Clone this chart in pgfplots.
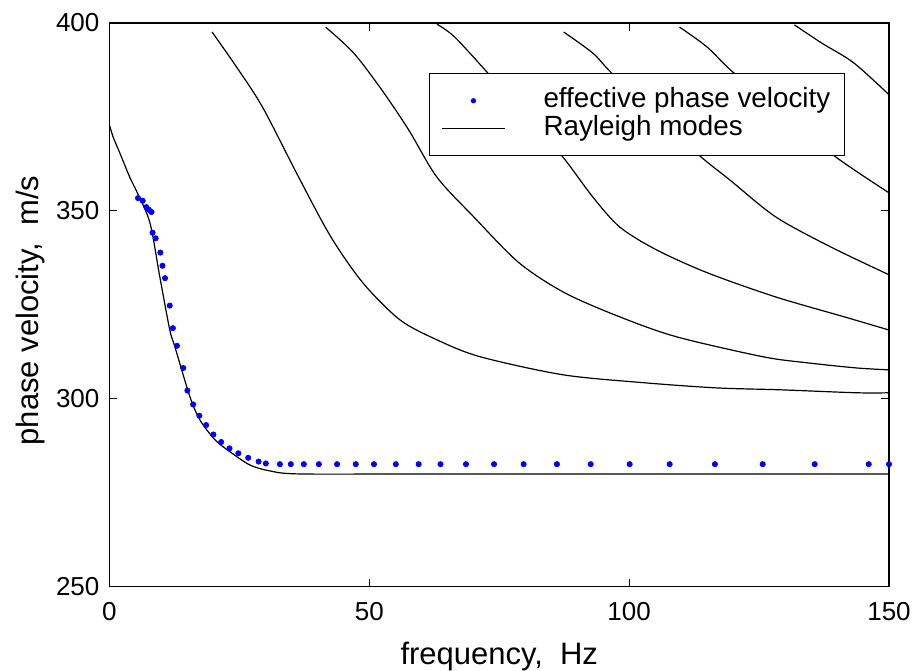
\documentclass[border=0pt]{standalone}
\usepackage{fontspec}
\setmainfont{Liberation Sans}
\usepackage{pgfplots}
\pgfplotsset{compat=1.18}
\pgfplotsset{
    dotlegend/.style={legend image code/.code={\path[draw=none, fill=none] (0pt,-1pt) rectangle (31.5pt,1pt); \draw[##1, mark size=1pt] plot coordinates {(15.75pt,0pt)};}},
    linelegend/.style={legend image code/.code={\draw[##1] (0pt,0pt) -- (31.5pt,0pt);}},
    mode/.style={black, line width=0.6pt, smooth},
}

\begin{document}
\begin{tikzpicture}
\begin{axis}[
    scale only axis,
    width=390pt, height=282pt,
    xmin=0, xmax=150,
    ymin=250, ymax=400,
    xtick={0,50,100,150},
    ytick={250,300,350,400},
    tick align=inside,
    major tick length=4pt,
    axis line style={line width=0.6pt},
    every tick/.style={black, line width=0.6pt},
    /pgf/number format/assume math mode=true,
    ticklabel style={font=\fontsize{13}{15}\selectfont},
    xticklabel style={yshift=-4.5pt},
    yticklabel style={xshift=-1.5pt},
    xlabel={frequency,\ \ Hz},
    ylabel={phase velocity,\ \ m/s},
    xlabel style={font=\fontsize{15.5}{18}\selectfont, at={(axis description cs:0.5,-0.1383)}, anchor=base},
    ylabel style={font=\fontsize{15.5}{18}\selectfont, at={(axis description cs:-0.0904,0.49)}, anchor=base},
    legend cell align=left,
    legend style={at={(0.4096,0.911)}, anchor=north west,
        draw=black, line width=0.6pt, fill=white,
        font=\fontsize{13.9}{16}\selectfont,
        inner xsep=6pt, inner ysep=6.5pt, row sep=0pt,
        nodes={inner xsep=1pt, inner ysep=0.5pt, text height=10pt, text depth=3pt},
        /tikz/every odd column/.append style={column sep=18pt}},
]

% effective phase velocity
\addplot[only marks, mark=*, mark size=1.3pt, color=blue, dotlegend]
coordinates {
    (5.5,353.4) (6.4,352.7) (7.1,351.0) (7.6,350.3) (8.1,349.7)
    (8.3,344.2) (8.9,342.7) (9.8,338.9) (10.2,335.4) (10.7,332.1)
    (11.6,324.8) (12.2,318.8) (13.0,314.1) (14.2,308.2) (15.0,302.2)
    (16.1,298.5) (17.3,295.5) (18.6,293.0) (20.0,290.5) (21.5,288.5)
    (23.1,286.8) (24.8,285.5) (26.7,284.3) (28.7,283.3) (30.1,282.8)
    (32.8,282.6) (34.9,282.6) (37.4,282.6) (40.3,282.6) (43.8,282.6)
    (47.4,282.6) (50.9,282.6) (55.1,282.6) (59.5,282.6) (63.7,282.6)
    (68.6,282.6) (74.0,282.6) (79.7,282.6) (86.1,282.6) (92.6,282.6)
    (100.1,282.6) (107.8,282.6) (116.5,282.6) (125.7,282.6) (135.7,282.6)
    (146.1,282.6) (150.0,282.6)
};
\addlegendentry{effective phase velocity}

% Rayleigh modes
\addplot[mode, linelegend] coordinates {
    (0,372.9) (0.7,369.7) (2.0,365.4) (3.9,359.0) (5.3,355.0) (7.8,346.8)
    (9.7,332.4) (11.6,318.4) (12.6,313.8) (15.5,300.5) (17.4,294.4)
    (20.3,289.1) (23.2,285.9) (27.0,282.4) (30.9,280.8) (36.6,280.0)
    (60,280.0) (100,280.0) (150,280.0)
};
\addlegendentry{Rayleigh modes}

\addplot[mode, forget plot] coordinates {
    (19.75,397.6) (24.5,388.2) (29.5,377.5) (36.4,359.0) (42.6,343.1) (48.8,330.8)
    (55.9,321.0) (63.0,315.7) (71.3,311.2) (87.2,306.4) (102.6,304.3)
    (116.8,302.9) (128.9,302.4) (143.8,301.6) (150,301.6)
};
\addplot[mode, forget plot] coordinates {
    (41.6,398.9) (47.0,392.0) (52.4,382.2) (57.6,371.5) (63.0,359.0)
    (70.1,348.4) (78.8,336.2) (87.6,328.2) (98.2,321.8) (109.1,316.5)
    (125.7,311.2) (134.1,309.6) (143.8,308.2) (150,307.7)
};
\addplot[mode, forget plot] coordinates {
    (63.0,399.7) (66.4,396.3) (72.6,387.0) (80.0,375.5) (87.2,364.4)
    (93.0,353.7) (98.2,345.7) (105.3,339.6) (115.1,333.5) (128.2,327.1)
    (141.4,321.8) (150,318.3)
};
\addplot[mode, forget plot] coordinates {
    (87.4,397.6) (93.0,392.0) (96.4,387.0) (105.0,375.5) (113.8,364.4)
    (119.4,358.2) (128.2,348.4) (138.8,340.4) (150,333.0)
};
\addplot[mode, forget plot] coordinates {
    (109.7,398.9) (115.0,393.6) (119.9,387.0) (130.0,375.5) (139.7,364.4)
    (150,354.8)
};
\addplot[mode, forget plot] coordinates {
    (131.8,399.5) (137.0,394.7) (143.2,389.4) (150,380.9)
};

\end{axis}
\pgfresetboundingbox
\path[use as bounding box] ([shift={(-54.75pt,-42pt)}]current axis.south west)
    rectangle ([shift={(12.5pt,11.5pt)}]current axis.north east);
\end{tikzpicture}
\end{document}
